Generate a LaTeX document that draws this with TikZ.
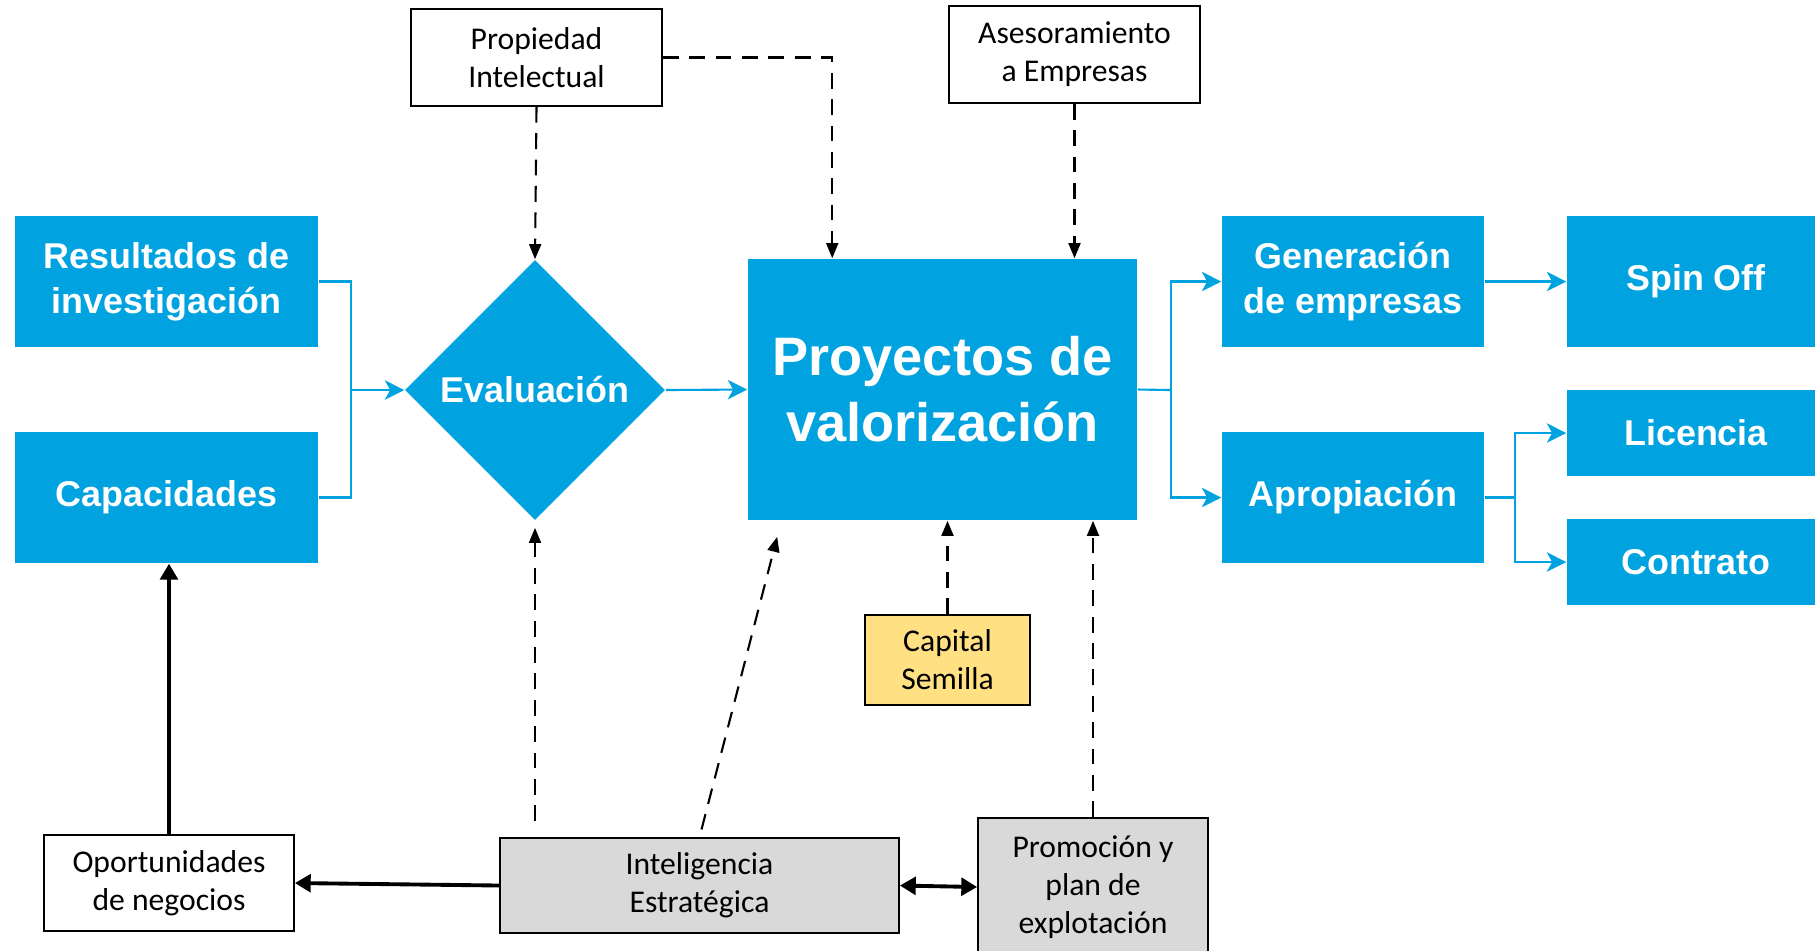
\documentclass[tikz,border=0pt]{standalone}
\usepackage{fontspec}
\setmainfont{Carlito}
\newfontfamily\arialfont{Liberation Sans}
\usetikzlibrary{shapes.geometric,arrows.meta}
\definecolor{azul}{HTML}{00A3E0}
\definecolor{semilla}{HTML}{FFE083}
\definecolor{gris}{HTML}{D9D9D9}

\begin{document}
\begin{tikzpicture}[x=0.01cm,y=-0.01cm,
  azulbox/.style={fill=azul,text=white,inner sep=0pt,align=center,
    font=\arialfont\bfseries\fontsize{10.2}{12.8}\selectfont},
  negbox/.style={draw,line width=0.45pt,inner sep=0pt,align=center,
    font=\fontsize{9}{10.8}\selectfont},
  flujo/.style={draw=azul,line width=0.6pt,-{Stealth[length=5.5pt,width=5.5pt,inset=1.5pt]}},
  apoyo/.style={line width=0.6pt,dash pattern=on 4.5pt off 3pt,-{Triangle[length=4.3pt,width=3.4pt]}},
  grueso/.style={line width=1.1pt,-{Triangle[length=4.5pt,width=5pt]}}]
\useasboundingbox (0,0) rectangle (1815,950);

% bloques azules
\node[azulbox,minimum width=3.03cm,minimum height=1.31cm] (res) at (166.5,281.5) {Resultados de\\investigación};
\node[azulbox,minimum width=3.03cm,minimum height=1.31cm] (cap) at (166.5,497.5) {Capacidades};
\node[azulbox,diamond,minimum width=2.6cm,minimum height=2.6cm] (eval) at (535,390) {Evaluación};
\node[azulbox,minimum width=3.89cm,minimum height=2.61cm,
  font=\arialfont\bfseries\fontsize{15.4}{18.8}\selectfont] (proy) at (942.5,389.5) {Proyectos de\\valorización};
\node[azulbox,minimum width=2.62cm,minimum height=1.31cm] (gen) at (1353,281.5) {Generación\\de empresas};
\node[azulbox,minimum width=2.62cm,minimum height=1.31cm] (apr) at (1353,497.5) {Apropiación};
\node[azulbox,minimum width=2.58cm,minimum height=1.31cm] (spin) at (1696,281.5) {Spin Off};
\node[azulbox,minimum width=2.58cm,minimum height=0.86cm] (lic) at (1696,433) {Licencia};
\node[azulbox,minimum width=2.58cm,minimum height=0.86cm] (con) at (1696,562) {Contrato};

% cajas de apoyo
\node[negbox,minimum width=2.51cm,minimum height=0.97cm] (prop) at (536.5,57.5) {Propiedad\\Intelectual};
\node[negbox,minimum width=2.51cm,minimum height=0.97cm] (ase) at (1074.5,54.5) {Asesoramiento\\a Empresas};
\node[negbox,fill=semilla,minimum width=1.65cm,minimum height=0.9cm] (sem) at (947.5,660) {Capital\\Semilla};
\node[negbox,minimum width=2.5cm,minimum height=0.96cm] (opo) at (169,883) {Oportunidades\\de negocios};
\node[negbox,fill=gris,minimum width=3.99cm,minimum height=0.95cm] (int) at (699.5,885.5) {Inteligencia\\Estratégica};
\node[negbox,fill=gris,minimum width=2.3cm,minimum height=1.38cm] (prom) at (1093,887) {Promoción y\\plan de\\explotación};

% flujo principal
\coordinate (jl) at (351,390);
\coordinate (jr) at (1171,390);
\coordinate (ja) at (1515,497.5);
\draw[draw=azul,line width=0.6pt] (res.east) -| (jl) |- (cap.east);
\draw[flujo] (jl) -- (eval.west);
\draw[flujo] (eval.east) -- (proy.west);
\draw[draw=azul,line width=0.6pt] (proy.east) -- (jr);
\draw[flujo] (jr) |- (gen.west);
\draw[flujo] (jr) |- (apr.west);
\draw[flujo] (gen.east) -- (spin.west);
\draw[draw=azul,line width=0.6pt] (apr.east) -- (ja);
\draw[flujo] (ja) |- (lic.west);
\draw[flujo] (ja) |- (con.west);

% apoyos
\draw[apoyo] (prop.south) -- (eval.north);
\draw[apoyo] (prop.east) -| ([xshift=0.85cm]proy.north west);
\draw[apoyo] (ase.south) -- (ase.south |- proy.north);
\draw[apoyo] (sem.north) -- (sem.north |- proy.south);
\draw[apoyo] (prom.north) -- (prom.north |- proy.south);
\draw[apoyo,shorten <=0.16cm,shorten >=2pt] (eval.south |- int.north) -- (eval.south);
\draw[apoyo,shorten <=0.08cm] (int.north) -- ([xshift=0.3cm,yshift=-0.16cm]proy.south west);

% enlaces gruesos
\draw[grueso] (int.west) -- (opo.east);
\draw[grueso] (opo.north) -- (opo.north |- cap.south);
\draw[grueso,{Triangle[length=4.5pt,width=5pt]}-{Triangle[length=4.5pt,width=5pt]}] (int.east) -- (prom.west);
\end{tikzpicture}
\end{document}
